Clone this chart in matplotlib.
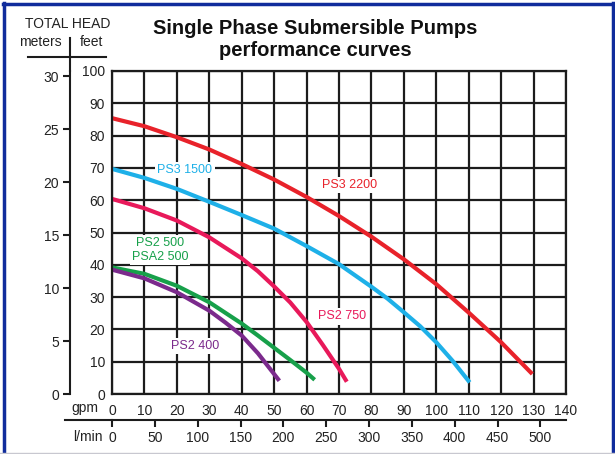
import matplotlib
matplotlib.use("Agg")
import matplotlib.pyplot as plt
from matplotlib.lines import Line2D

plt.rcParams['font.family'] = ['Liberation Sans', 'DejaVu Sans']

# curve readings: flow in gpm, head in feet
ps3_2200_gpm = [0, 10, 20, 30, 40, 50, 60, 70, 80, 90, 100, 110, 120, 129.6]
ps3_2200_ft = [85.4, 82.9, 79.5, 75.7, 71.2, 66.4, 61.0, 55.1, 48.7, 41.7, 34.0, 25.2, 16.0, 6.2]

ps3_1500_gpm = [0, 10, 20, 30, 40, 50, 60, 70, 80, 85, 90, 95, 100, 105, 110.3]
ps3_1500_ft = [69.7, 66.9, 63.5, 59.5, 55.4, 51.2, 45.8, 40.2, 33.2, 29.5, 25.3, 21.0, 16.0, 10.3, 3.6]

ps2_750_gpm = [0, 10, 20, 30, 40, 45, 50, 55, 60, 65, 70, 72.4]
ps2_750_ft = [60.4, 57.5, 53.7, 48.5, 42.0, 38.0, 33.3, 28.3, 22.3, 15.2, 7.8, 3.8]

ps2_500_gpm = [0, 10, 20, 30, 40, 45, 50, 55, 60, 62.5]
ps2_500_ft = [39.2, 37.2, 33.5, 28.4, 21.8, 18.1, 14.3, 10.5, 6.6, 4.4]

ps2_400_gpm = [0, 10, 20, 30, 35, 40, 45, 51.6]
ps2_400_ft = [38.5, 35.8, 31.5, 25.8, 22.1, 18.1, 12.6, 4.1]

gpm_ticks = list(range(0, 150, 10))
feet_ticks = list(range(0, 110, 10))
meter_ticks = [0, 5, 10, 15, 20, 25, 30]
lmin_ticks = [0, 50, 100, 150, 200, 250, 300, 350, 400, 450, 500]

RED = '#e8222a'
CYAN = '#1eb0e8'
CRIMSON = '#e8195a'
GREEN = '#17a04a'
PURPLE = '#7b2a8c'
INK = '#1c1c1c'

W, H = 615, 454
fig = plt.figure(figsize=(W / 100, H / 100), dpi=100)


def fx(px):
    return px / W


def fy(py):
    return 1 - py / H


ax = fig.add_axes([fx(112), fy(394), fx(566) - fx(112), fy(71) - fy(394)])
ax.set_xlim(0, 140)
ax.set_ylim(0, 100)
ax.set_xticks(gpm_ticks)
ax.set_yticks(feet_ticks)
ax.grid(True, color=INK, lw=1.6)
ax.set_axisbelow(True)
for s in ax.spines.values():
    s.set_color(INK)
    s.set_linewidth(1.6)
ax.tick_params(length=0, labelsize=10, colors='#222222', pad=5)
ax.tick_params(axis='x', pad=7)

lw = 3.0
curves = [
    (ps3_2200_gpm, ps3_2200_ft, RED),
    (ps3_1500_gpm, ps3_1500_ft, CYAN),
    (ps2_750_gpm, ps2_750_ft, CRIMSON),
    (ps2_500_gpm, ps2_500_ft, GREEN),
    (ps2_400_gpm, ps2_400_ft, PURPLE),
]
for xs, ys, c in curves:
    ax.plot(xs, ys, color=c, lw=lw, solid_capstyle='butt', solid_joinstyle='round')

box = dict(facecolor='white', edgecolor='none', pad=1.5)
ax.text(22.5, 69.3, 'PS3 1500', color=CYAN, fontsize=9, ha='center', va='center', bbox=box)
ax.text(73.4, 64.7, 'PS3 2200', color=RED, fontsize=9, ha='center', va='center', bbox=box)
ax.text(14.8, 44.6, 'PS2 500\nPSA2 500', color=GREEN, fontsize=9, ha='center', va='center',
        linespacing=1.25, bbox=box)
ax.text(70.9, 24, 'PS2 750', color=CRIMSON, fontsize=9, ha='center', va='center', bbox=box)
ax.text(25.6, 14.8, 'PS2 400', color=PURPLE, fontsize=9, ha='center', va='center', bbox=box)

# meters scale on the left
ft_per_m = 3.28084
sec_y = ax.secondary_yaxis((70 - 112) / 454, functions=(lambda f: f / ft_per_m, lambda m: m * ft_per_m))
sec_y.set_yticks(meter_ticks)
sec_y.spines['left'].set_color(INK)
sec_y.spines['left'].set_linewidth(1.5)
sec_y.tick_params(length=5, width=1.5, color=INK, labelsize=10, labelcolor='#222222', pad=3)

# l/min scale below
l_per_gal = 3.785
sec_x = ax.secondary_xaxis((394 - 420) / 323, functions=(lambda g: g * l_per_gal, lambda l: l / l_per_gal))
sec_x.set_xticks(lmin_ticks)
sec_x.spines['bottom'].set_color(INK)
sec_x.spines['bottom'].set_linewidth(1.5)
sec_x.tick_params(length=5, width=1.5, color=INK, labelsize=10, labelcolor='#222222', pad=3)

# extra rule lines of the header and axes
fig.add_artist(Line2D([fx(70), fx(70)], [fy(38), fy(71)], color=INK, lw=1.5))
fig.add_artist(Line2D([fx(28), fx(106)], [fy(57), fy(57)], color=INK, lw=1.5))
fig.add_artist(Line2D([fx(65), fx(112)], [fy(420), fy(420)], color=INK, lw=1.5))

fig.text(fx(68), fy(24), 'TOTAL HEAD', fontsize=10, ha='center', va='center', color='#222222')
fig.text(fx(62), fy(42), 'meters', fontsize=10, ha='right', va='center', color='#222222')
fig.text(fx(80), fy(42), 'feet', fontsize=10, ha='left', va='center', color='#222222')
fig.text(fx(98), fy(408), 'gpm', fontsize=10, ha='right', va='center', color='#222222')
fig.text(fx(103), fy(437), 'l/min', fontsize=10, ha='right', va='center', color='#222222')

fig.text(fx(315), fy(28), 'Single Phase Submersible Pumps', fontsize=14.5, fontweight='bold',
         ha='center', va='center', color='#111111')
fig.text(fx(315), fy(50), 'performance curves', fontsize=14.5, fontweight='bold',
         ha='center', va='center', color='#111111')

# frame around the picture
BLUE = '#102c9c'
fig.add_artist(Line2D([fx(4), fx(4)], [fy(452), fy(3)], color=BLUE, lw=2.5))
fig.add_artist(Line2D([fx(3), fx(613)], [fy(3.5), fy(3.5)], color=BLUE, lw=2.5))
fig.add_artist(Line2D([fx(613), fx(613)], [fy(3), fy(452)], color=BLUE, lw=2.5))
fig.add_artist(Line2D([fx(0), fx(615)], [fy(452.5), fy(452.5)], color='#c8c8d0', lw=1))

fig.savefig('out.png', dpi=100)
